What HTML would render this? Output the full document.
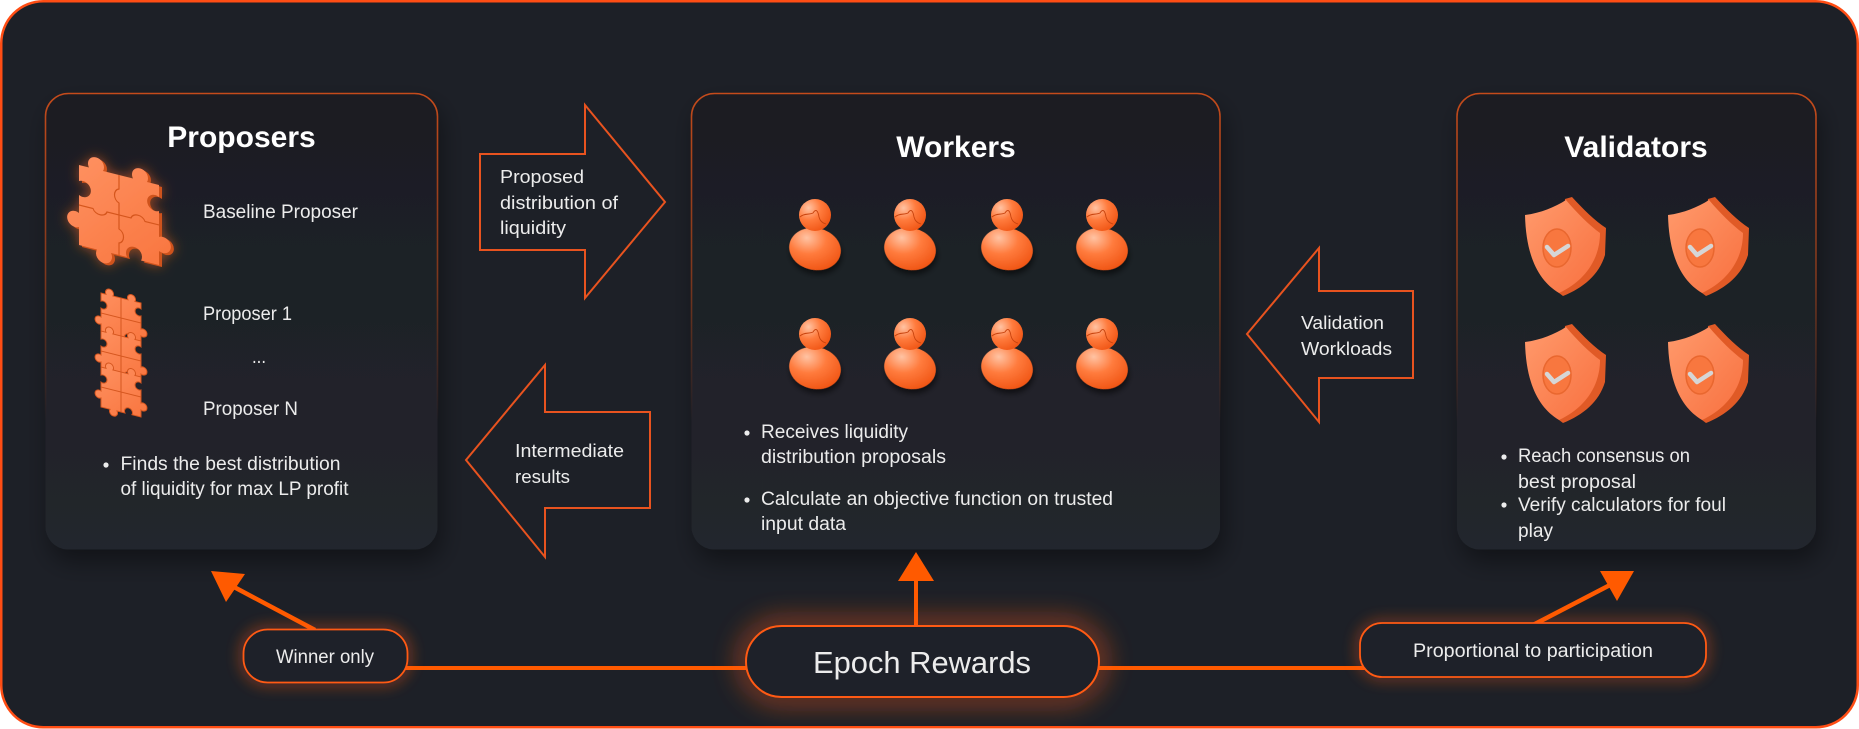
<!DOCTYPE html>
<html><head><meta charset="utf-8">
<style>
html,body{margin:0;padding:0;background:#ffffff;width:1859px;height:729px;overflow:hidden}
svg{display:block}
text{font-family:"Liberation Sans",sans-serif;fill:#ececec}
.t{font-weight:bold;fill:#ffffff;font-size:30px}
.b{font-size:19px}
.a{font-size:18px}
</style></head><body>
<svg width="1859" height="729" viewBox="0 0 1859 729" xmlns="http://www.w3.org/2000/svg">
<defs>
 <linearGradient id="boxStroke" x1="0" y1="0" x2="0" y2="1">
  <stop offset="0" stop-color="#c54b1b"/>
  <stop offset="0.4" stop-color="#a8421a" stop-opacity="0.7"/>
  <stop offset="0.72" stop-color="#a8421a" stop-opacity="0"/>
 </linearGradient>
 <linearGradient id="boxFill" x1="0" y1="0" x2="0" y2="1">
  <stop offset="0" stop-color="#1b1d23"/>
  <stop offset="1" stop-color="#23262d"/>
 </linearGradient>
 <filter id="shadow" x="-10%" y="-10%" width="130%" height="130%">
  <feDropShadow dx="4" dy="12" stdDeviation="12" flood-color="#000" flood-opacity="0.4"/>
 </filter>
 <filter id="glow" x="-40%" y="-100%" width="180%" height="300%">
  <feGaussianBlur stdDeviation="7"/>
 </filter>
 <filter id="glowBig" x="-40%" y="-100%" width="180%" height="300%">
  <feGaussianBlur stdDeviation="13"/>
 </filter>
 <filter id="pzglow" x="-40%" y="-40%" width="180%" height="180%">
  <feDropShadow dx="0" dy="0" stdDeviation="6" flood-color="#ff6a20" flood-opacity="0.55"/>
 </filter>
 <filter id="dsh" x="-40%" y="-40%" width="180%" height="180%">
  <feDropShadow dx="2" dy="4" stdDeviation="3" flood-color="#000" flood-opacity="0.55"/>
 </filter>
 <radialGradient id="pg" cx="0.3" cy="0.28" r="0.85">
  <stop offset="0" stop-color="#ffc3a3"/>
  <stop offset="0.45" stop-color="#ff7b3d"/>
  <stop offset="1" stop-color="#ee500f"/>
 </radialGradient>
 <linearGradient id="sf" x1="0" y1="0" x2="1" y2="1">
  <stop offset="0" stop-color="#ff9a6c"/>
  <stop offset="1" stop-color="#f8703f"/>
 </linearGradient>
 <linearGradient id="pzf" x1="0" y1="0" x2="1" y2="1">
  <stop offset="0" stop-color="#ff9363"/>
  <stop offset="1" stop-color="#f8733c"/>
 </linearGradient>
</defs>

<!-- outer frame -->
<rect x="1.25" y="1.25" width="1856.5" height="726" rx="42" fill="#1d2027" stroke="#ff4d14" stroke-width="2.5"/>

<!-- boxes -->
<rect x="45.5" y="93.5" width="392" height="456" rx="23" fill="url(#boxFill)" filter="url(#shadow)"/>
<rect x="45.5" y="93.5" width="392" height="456" rx="23" fill="none" stroke="url(#boxStroke)" stroke-width="1.6"/>
<rect x="691.5" y="93.5" width="528.5" height="456" rx="23" fill="url(#boxFill)" filter="url(#shadow)"/>
<rect x="691.5" y="93.5" width="528.5" height="456" rx="23" fill="none" stroke="url(#boxStroke)" stroke-width="1.6"/>
<rect x="1457" y="93.5" width="359" height="456" rx="23" fill="url(#boxFill)" filter="url(#shadow)"/>
<rect x="1457" y="93.5" width="359" height="456" rx="23" fill="none" stroke="url(#boxStroke)" stroke-width="1.6"/>

<!-- titles -->
<text class="t" x="241.5" y="147" text-anchor="middle">Proposers</text>
<text class="t" x="956" y="157" text-anchor="middle">Workers</text>
<text class="t" x="1636" y="157" text-anchor="middle">Validators</text>

<!-- big puzzle -->
<g filter="url(#pzglow)">
 <g transform="translate(82,167) skewY(14)">
  <path d="M0,0 L10,0 A8,8 0 1,1 24,0 L54,0 A8,8 0 1,1 68,0 L80,0 L80,12 A8,8 0 1,0 80,26 L80,52 A8,8 0 1,1 80,66 L80,80 L62,80 A8,8 0 1,0 48,80 L32,80 A8,8 0 1,1 18,80 L0,80 L0,62 A8,8 0 1,1 0,48 L0,30 A8,8 0 1,0 0,16 Z" fill="#cf531d"/>
 </g>
 <g transform="translate(79,165) skewY(14)">
  <path d="M0,0 L10,0 A8,8 0 1,1 24,0 L54,0 A8,8 0 1,1 68,0 L80,0 L80,12 A8,8 0 1,0 80,26 L80,52 A8,8 0 1,1 80,66 L80,80 L62,80 A8,8 0 1,0 48,80 L32,80 A8,8 0 1,1 18,80 L0,80 L0,62 A8,8 0 1,1 0,48 L0,30 A8,8 0 1,0 0,16 Z" fill="url(#pzf)"/>
  <path d="M40,0 L40,14 C34,16 34,26 40,28 L40,54 C46,56 46,66 40,68 L40,80 M0,40 L14,40 C16,46 26,46 28,40 L52,40 C54,34 64,34 66,40 L80,40" stroke="#d5561f" stroke-width="1.2" fill="none"/>
 </g>
</g>

<!-- small puzzles stack -->
<g>
 <g transform="translate(101,293) skewY(14) scale(0.5)">
  <path d="M0,0 L10,0 A8,8 0 1,1 24,0 L54,0 A8,8 0 1,1 68,0 L80,0 L80,12 A8,8 0 1,0 80,26 L80,52 A8,8 0 1,1 80,66 L80,80 L62,80 A8,8 0 1,0 48,80 L32,80 A8,8 0 1,1 18,80 L0,80 L0,62 A8,8 0 1,1 0,48 L0,30 A8,8 0 1,0 0,16 Z" fill="url(#pzf)" stroke="#d5561f" stroke-width="2"/>
  <path d="M40,0 L40,80 M0,40 L80,40" stroke="#d5561f" stroke-width="2" fill="none"/>
 </g>
 <g transform="translate(101,331) skewY(14) scale(0.5)">
  <path d="M0,0 L10,0 A8,8 0 1,1 24,0 L54,0 A8,8 0 1,1 68,0 L80,0 L80,12 A8,8 0 1,0 80,26 L80,52 A8,8 0 1,1 80,66 L80,80 L62,80 A8,8 0 1,0 48,80 L32,80 A8,8 0 1,1 18,80 L0,80 L0,62 A8,8 0 1,1 0,48 L0,30 A8,8 0 1,0 0,16 Z" fill="url(#pzf)" stroke="#d5561f" stroke-width="2"/>
  <path d="M40,0 L40,80 M0,40 L80,40" stroke="#d5561f" stroke-width="2" fill="none"/>
 </g>
 <g transform="translate(101,367) skewY(14) scale(0.5)">
  <path d="M0,0 L10,0 A8,8 0 1,1 24,0 L54,0 A8,8 0 1,1 68,0 L80,0 L80,12 A8,8 0 1,0 80,26 L80,52 A8,8 0 1,1 80,66 L80,80 L62,80 A8,8 0 1,0 48,80 L32,80 A8,8 0 1,1 18,80 L0,80 L0,62 A8,8 0 1,1 0,48 L0,30 A8,8 0 1,0 0,16 Z" fill="url(#pzf)" stroke="#d5561f" stroke-width="2"/>
  <path d="M40,0 L40,80 M0,40 L80,40" stroke="#d5561f" stroke-width="2" fill="none"/>
 </g>
</g>

<!-- proposers text -->
<text class="b" x="203" y="218" textLength="155" lengthAdjust="spacingAndGlyphs">Baseline Proposer</text>
<text class="b" x="203" y="320" textLength="89" lengthAdjust="spacingAndGlyphs">Proposer 1</text>
<text class="b" x="252" y="363" textLength="14" lengthAdjust="spacingAndGlyphs">...</text>
<text class="b" x="203" y="415" textLength="95" lengthAdjust="spacingAndGlyphs">Proposer N</text>
<circle cx="106" cy="465" r="2.6" fill="#ececec"/>
<text class="b" x="120.5" y="470" textLength="220" lengthAdjust="spacingAndGlyphs">Finds the best distribution</text>
<text class="b" x="120.5" y="495" textLength="228" lengthAdjust="spacingAndGlyphs">of liquidity for max LP profit</text>

<!-- big outline arrows -->
<polygon points="480,154 585,154 585,105 665,202 585,298 585,250 480,250" fill="none" stroke="#e8531f" stroke-width="2"/>
<text class="a" x="500" y="183" textLength="84" lengthAdjust="spacingAndGlyphs">Proposed</text>
<text class="a" x="500" y="209" textLength="118" lengthAdjust="spacingAndGlyphs">distribution of</text>
<text class="a" x="500" y="234" textLength="66" lengthAdjust="spacingAndGlyphs">liquidity</text>

<polygon points="650,412 545,412 545,365 466,460 545,557 545,508 650,508" fill="none" stroke="#e8531f" stroke-width="2"/>
<text class="a" x="515" y="457" textLength="109" lengthAdjust="spacingAndGlyphs">Intermediate</text>
<text class="a" x="515" y="483" textLength="55" lengthAdjust="spacingAndGlyphs">results</text>

<polygon points="1413,291 1319,291 1319,248 1247,334 1319,422 1319,378 1413,378" fill="none" stroke="#e8531f" stroke-width="2"/>
<text class="a" x="1301" y="329" textLength="83" lengthAdjust="spacingAndGlyphs">Validation</text>
<text class="a" x="1301" y="355" textLength="91" lengthAdjust="spacingAndGlyphs">Workloads</text>

<!-- workers -->
<g transform="translate(815,215)"><ellipse cx="0" cy="34" rx="26" ry="21" transform="rotate(12 0 34)" fill="url(#pg)" filter="url(#dsh)"/><circle cx="0" cy="0" r="16" fill="url(#pg)"/><path d="M-15,2 C-11,-2 -6,0 -2,-2 C1,-7 3,-4 4,2 C5,6 7,8 11,9" stroke="#c8430e" stroke-width="0.9" fill="none"/></g>
<g transform="translate(910,215)"><ellipse cx="0" cy="34" rx="26" ry="21" transform="rotate(12 0 34)" fill="url(#pg)" filter="url(#dsh)"/><circle cx="0" cy="0" r="16" fill="url(#pg)"/><path d="M-15,2 C-11,-2 -6,0 -2,-2 C1,-7 3,-4 4,2 C5,6 7,8 11,9" stroke="#c8430e" stroke-width="0.9" fill="none"/></g>
<g transform="translate(1007,215)"><ellipse cx="0" cy="34" rx="26" ry="21" transform="rotate(12 0 34)" fill="url(#pg)" filter="url(#dsh)"/><circle cx="0" cy="0" r="16" fill="url(#pg)"/><path d="M-15,2 C-11,-2 -6,0 -2,-2 C1,-7 3,-4 4,2 C5,6 7,8 11,9" stroke="#c8430e" stroke-width="0.9" fill="none"/></g>
<g transform="translate(1102,215)"><ellipse cx="0" cy="34" rx="26" ry="21" transform="rotate(12 0 34)" fill="url(#pg)" filter="url(#dsh)"/><circle cx="0" cy="0" r="16" fill="url(#pg)"/><path d="M-15,2 C-11,-2 -6,0 -2,-2 C1,-7 3,-4 4,2 C5,6 7,8 11,9" stroke="#c8430e" stroke-width="0.9" fill="none"/></g>
<g transform="translate(815,334)"><ellipse cx="0" cy="34" rx="26" ry="21" transform="rotate(12 0 34)" fill="url(#pg)" filter="url(#dsh)"/><circle cx="0" cy="0" r="16" fill="url(#pg)"/><path d="M-15,2 C-11,-2 -6,0 -2,-2 C1,-7 3,-4 4,2 C5,6 7,8 11,9" stroke="#c8430e" stroke-width="0.9" fill="none"/></g>
<g transform="translate(910,334)"><ellipse cx="0" cy="34" rx="26" ry="21" transform="rotate(12 0 34)" fill="url(#pg)" filter="url(#dsh)"/><circle cx="0" cy="0" r="16" fill="url(#pg)"/><path d="M-15,2 C-11,-2 -6,0 -2,-2 C1,-7 3,-4 4,2 C5,6 7,8 11,9" stroke="#c8430e" stroke-width="0.9" fill="none"/></g>
<g transform="translate(1007,334)"><ellipse cx="0" cy="34" rx="26" ry="21" transform="rotate(12 0 34)" fill="url(#pg)" filter="url(#dsh)"/><circle cx="0" cy="0" r="16" fill="url(#pg)"/><path d="M-15,2 C-11,-2 -6,0 -2,-2 C1,-7 3,-4 4,2 C5,6 7,8 11,9" stroke="#c8430e" stroke-width="0.9" fill="none"/></g>
<g transform="translate(1102,334)"><ellipse cx="0" cy="34" rx="26" ry="21" transform="rotate(12 0 34)" fill="url(#pg)" filter="url(#dsh)"/><circle cx="0" cy="0" r="16" fill="url(#pg)"/><path d="M-15,2 C-11,-2 -6,0 -2,-2 C1,-7 3,-4 4,2 C5,6 7,8 11,9" stroke="#c8430e" stroke-width="0.9" fill="none"/></g>

<circle cx="747" cy="433" r="2.6" fill="#ececec"/>
<text class="b" x="761" y="438" textLength="147" lengthAdjust="spacingAndGlyphs">Receives liquidity</text>
<text class="b" x="761" y="463" textLength="185" lengthAdjust="spacingAndGlyphs">distribution proposals</text>
<circle cx="747" cy="500" r="2.6" fill="#ececec"/>
<text class="b" x="761" y="505" textLength="352" lengthAdjust="spacingAndGlyphs">Calculate an objective function on trusted</text>
<text class="b" x="761" y="530" textLength="85" lengthAdjust="spacingAndGlyphs">input data</text>

<!-- validators shields -->
<g transform="translate(1517,195)"><path d="M48,4 L55,2 C66,14 78,26 89,33 L88,60 C82,80 66,93 46,101 L42,98 Z" fill="#e05a26"/><path d="M8,20 C24,18 38,12 49,5 C60,18 72,30 83,38 C83,64 68,86 42,98 C22,86 9,62 8,20 Z" fill="url(#sf)"/><ellipse cx="40" cy="53" rx="14" ry="19" fill="#f8773f" stroke="#e9672f" stroke-width="1.5"/><path d="M30,52 L37,60 L51,51" stroke="#d6d6d6" stroke-width="4.5" fill="none" stroke-linecap="round" stroke-linejoin="round"/></g>
<g transform="translate(1660,195)"><path d="M48,4 L55,2 C66,14 78,26 89,33 L88,60 C82,80 66,93 46,101 L42,98 Z" fill="#e05a26"/><path d="M8,20 C24,18 38,12 49,5 C60,18 72,30 83,38 C83,64 68,86 42,98 C22,86 9,62 8,20 Z" fill="url(#sf)"/><ellipse cx="40" cy="53" rx="14" ry="19" fill="#f8773f" stroke="#e9672f" stroke-width="1.5"/><path d="M30,52 L37,60 L51,51" stroke="#d6d6d6" stroke-width="4.5" fill="none" stroke-linecap="round" stroke-linejoin="round"/></g>
<g transform="translate(1517,322)"><path d="M48,4 L55,2 C66,14 78,26 89,33 L88,60 C82,80 66,93 46,101 L42,98 Z" fill="#e05a26"/><path d="M8,20 C24,18 38,12 49,5 C60,18 72,30 83,38 C83,64 68,86 42,98 C22,86 9,62 8,20 Z" fill="url(#sf)"/><ellipse cx="40" cy="53" rx="14" ry="19" fill="#f8773f" stroke="#e9672f" stroke-width="1.5"/><path d="M30,52 L37,60 L51,51" stroke="#d6d6d6" stroke-width="4.5" fill="none" stroke-linecap="round" stroke-linejoin="round"/></g>
<g transform="translate(1660,322)"><path d="M48,4 L55,2 C66,14 78,26 89,33 L88,60 C82,80 66,93 46,101 L42,98 Z" fill="#e05a26"/><path d="M8,20 C24,18 38,12 49,5 C60,18 72,30 83,38 C83,64 68,86 42,98 C22,86 9,62 8,20 Z" fill="url(#sf)"/><ellipse cx="40" cy="53" rx="14" ry="19" fill="#f8773f" stroke="#e9672f" stroke-width="1.5"/><path d="M30,52 L37,60 L51,51" stroke="#d6d6d6" stroke-width="4.5" fill="none" stroke-linecap="round" stroke-linejoin="round"/></g>

<circle cx="1504" cy="457" r="2.6" fill="#ececec"/>
<text class="b" x="1518" y="462" textLength="172" lengthAdjust="spacingAndGlyphs">Reach consensus on</text>
<text class="b" x="1518" y="488" textLength="118" lengthAdjust="spacingAndGlyphs">best proposal</text>
<circle cx="1504" cy="505" r="2.6" fill="#ececec"/>
<text class="b" x="1518" y="511" textLength="208" lengthAdjust="spacingAndGlyphs">Verify calculators for foul</text>
<text class="b" x="1518" y="537" textLength="35" lengthAdjust="spacingAndGlyphs">play</text>

<!-- connectors -->
<line x1="400" y1="668" x2="760" y2="668" stroke="#ff5a00" stroke-width="4"/>
<line x1="1090" y1="668" x2="1370" y2="668" stroke="#ff5a00" stroke-width="4"/>
<line x1="916" y1="630" x2="916" y2="578" stroke="#ff5a00" stroke-width="4"/>
<polygon points="898,581 934,581 916,552" fill="#ff5a00"/>
<line x1="315" y1="630" x2="234" y2="587" stroke="#ff5a00" stroke-width="4.5"/>
<polygon points="211,571 245,574 226,602" fill="#ff5a00"/>
<line x1="1533" y1="625" x2="1610" y2="585" stroke="#ff5a00" stroke-width="4.5"/>
<polygon points="1634,571 1600,571 1617,601" fill="#ff5a00"/>

<!-- pill glows -->
<rect x="243.5" y="629.5" width="164" height="53" rx="24" fill="none" stroke="#ff5a14" stroke-width="6" opacity="0.6" filter="url(#glow)"/>
<rect x="746" y="626" width="353" height="71" rx="35.5" fill="none" stroke="#ff5a14" stroke-width="14" opacity="0.6" filter="url(#glowBig)"/>
<rect x="1360" y="623" width="346" height="54" rx="22" fill="none" stroke="#ff5a14" stroke-width="6" opacity="0.55" filter="url(#glow)"/>

<!-- pills -->
<rect x="243.5" y="629.5" width="164" height="53" rx="24" fill="#1e2129" stroke="#ff5a14" stroke-width="1.8"/>
<text class="b" x="276" y="663" textLength="98" lengthAdjust="spacingAndGlyphs">Winner only</text>
<rect x="746" y="626" width="353" height="71" rx="35.5" fill="#1e2129" stroke="#ff5a14" stroke-width="2"/>
<text x="813" y="673" font-size="31" textLength="218" lengthAdjust="spacingAndGlyphs">Epoch Rewards</text>
<rect x="1360" y="623" width="346" height="54" rx="22" fill="#1e2129" stroke="#ff5a14" stroke-width="1.8"/>
<text class="b" x="1413" y="657" textLength="240" lengthAdjust="spacingAndGlyphs">Proportional to participation</text>
</svg>
</body></html>
